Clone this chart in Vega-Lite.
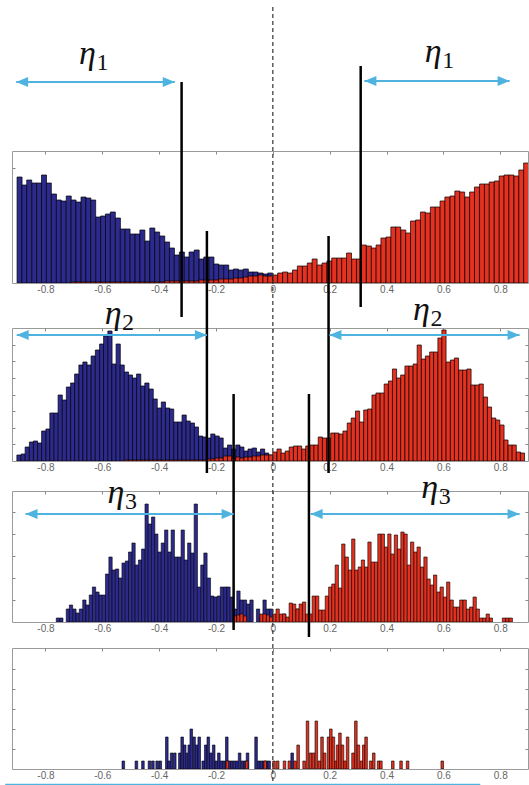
{
"$schema":"https://vega.github.io/schema/vega-lite/v6.json",
"padding":{"left":3,"top":5,"right":0,"bottom":0},
"spacing":45,
"bounds":"flush",
"config":{"view":{"stroke":"#9a9a9a","strokeWidth":1},"axis":{"tickColor":"#888","labelColor":"#666","labelFont":"Liberation Sans","labelFontSize":10}},
"vconcat":[
{
"width":516,"height":132,
"resolve":{"axis":{"x":"independent","y":"independent"}},
"layer":[
{"data":{"format":{"type":"csv"},"values":"x,s,n\n-0.891,b,106\n-0.874,b,98\n-0.857,b,103\n-0.839,b,100\n-0.822,b,100\n-0.805,b,108\n-0.788,b,100\n-0.770,b,89\n-0.753,b,83\n-0.736,b,82\n-0.718,b,87\n-0.701,b,83\n-0.684,b,81\n-0.666,b,86\n-0.649,b,85\n-0.632,b,83\n-0.614,b,66\n-0.597,b,67\n-0.580,b,69\n-0.563,b,71\n-0.545,b,65\n-0.528,b,54\n-0.511,b,54\n-0.493,b,49\n-0.476,b,49\n-0.459,b,53\n-0.441,b,42\n-0.424,b,55\n-0.407,b,51\n-0.389,b,47\n-0.372,b,41\n-0.355,b,35\n-0.338,b,28\n-0.320,b,31\n-0.303,b,26\n-0.286,b,31\n-0.268,b,33\n-0.251,b,24\n-0.234,b,26\n-0.216,b,26\n-0.199,b,19\n-0.182,b,18\n-0.164,b,18\n-0.147,b,13\n-0.130,b,14\n-0.113,b,13\n-0.095,b,14\n-0.078,b,11\n-0.061,b,11\n-0.043,b,10\n-0.026,b,9\n-0.009,b,10\n-0.701,r,1\n-0.684,r,1\n-0.666,r,1\n-0.649,r,1\n-0.632,r,1\n-0.614,r,1\n-0.597,r,1\n-0.580,r,1\n-0.563,r,1\n-0.545,r,1\n-0.528,r,1\n-0.511,r,1\n-0.493,r,1\n-0.476,r,1\n-0.459,r,1\n-0.441,r,1\n-0.424,r,1\n-0.407,r,1\n-0.389,r,1\n-0.372,r,2\n-0.355,r,2\n-0.338,r,2\n-0.320,r,2\n-0.303,r,2\n-0.286,r,2\n-0.268,r,2\n-0.251,r,3\n-0.234,r,3\n-0.216,r,3\n-0.199,r,3\n-0.182,r,4\n-0.164,r,4\n-0.147,r,4\n-0.130,r,5\n-0.113,r,5\n-0.095,r,6\n-0.078,r,7\n-0.061,r,7\n-0.043,r,8\n-0.026,r,7\n-0.009,r,7\n0.009,r,8\n0.026,r,10\n0.043,r,11\n0.061,r,10\n0.078,r,13\n0.095,r,17\n0.113,r,17\n0.130,r,20\n0.147,r,24\n0.164,r,18\n0.182,r,20\n0.199,r,22\n0.216,r,25\n0.234,r,25\n0.251,r,25\n0.268,r,30\n0.286,r,24\n0.303,r,24\n0.320,r,38\n0.338,r,37\n0.355,r,35\n0.372,r,38\n0.389,r,45\n0.407,r,46\n0.424,r,56\n0.441,r,56\n0.459,r,53\n0.476,r,50\n0.493,r,62\n0.511,r,63\n0.528,r,71\n0.545,r,70\n0.563,r,76\n0.580,r,76\n0.597,r,82\n0.614,r,86\n0.632,r,87\n0.649,r,92\n0.666,r,91\n0.684,r,86\n0.701,r,91\n0.718,r,96\n0.736,r,99\n0.753,r,99\n0.770,r,101\n0.788,r,102\n0.805,r,107\n0.822,r,108\n0.839,r,108\n0.857,r,107\n0.874,r,113\n0.891,r,120"},
 "mark":{"type":"bar","orient":"vertical","size":5,"stroke":"#000","strokeWidth":0.7,"clip":true},
 "encoding":{
  "x":{"field":"x","type":"quantitative","scale":{"domain":[-0.9,0.88],"nice":false,"zero":false},"axis":{"orient":"bottom","values":[-0.8,-0.6,-0.4,-0.2,0,0.2,0.4,0.6,0.8],"ticks":false,"domain":false,"grid":false,"title":null,"labelPadding":1,"labelExpr":"datum.value == 0 ? '0' : replace(format(datum.value, '.1f'), '\u2212', '-')"}},
  "y":{"field":"n","type":"quantitative","stack":null,"scale":{"domain":[0,132],"nice":false,"zero":false},"axis":{"orient":"left","values":[115],"labels":false,"tickSize":-3,"domain":false,"grid":false,"title":null}},
  "color":{"field":"s","type":"nominal","scale":{"domain":["b","r"],"range":["#2d2a8e","#e5311f"]},"legend":null}}},
{"data":{"values":[{"x":-0.321,"y":201,"y2":-34},{"x":0.309,"y":217,"y2":-24}]},
 "mark":{"type":"rule","color":"#000","strokeWidth":2.5},
 "encoding":{
  "x":{"field":"x","type":"quantitative","scale":{"domain":[-0.9,0.88],"nice":false,"zero":false},"axis":{"orient":"top","values":[-0.8,-0.6,-0.4,-0.2,0,0.2,0.4,0.6,0.8],"labels":false,"tickSize":-3,"domain":false,"grid":false,"title":null}},
  "y":{"field":"y","type":"quantitative","scale":{"domain":[0,132],"nice":false,"zero":false},"axis":{"orient":"right","values":[115],"labels":false,"tickSize":-3,"domain":false,"grid":false,"title":null}},
  "y2":{"field":"y2"}}},
{"data":{"values":[{"x":-0.903,"x2":-0.345,"y":201},{"x":0.322,"x2":0.833,"y":202}]},
 "layer":[
  {"mark":{"type":"rule","color":"#4fb3e0","strokeWidth":2},
   "encoding":{"x":{"field":"x","type":"quantitative","scale":{"domain":[-0.9,0.88],"nice":false,"zero":false},"axis":null},"x2":{"field":"x2"},"y":{"field":"y","type":"quantitative","scale":{"domain":[0,132],"nice":false,"zero":false},"axis":null}}},
  {"mark":{"type":"point","filled":true,"opacity":1,"size":100,"strokeWidth":0,"color":"#4fb3e0","shape":"M0,0L2.4,-1L2.4,1Z"},
   "encoding":{"x":{"field":"x","type":"quantitative","scale":{"domain":[-0.9,0.88],"nice":false,"zero":false},"axis":null},"y":{"field":"y","type":"quantitative","scale":{"domain":[0,132],"nice":false,"zero":false},"axis":null}}},
  {"mark":{"type":"point","filled":true,"opacity":1,"size":100,"strokeWidth":0,"color":"#4fb3e0","shape":"M0,0L-2.4,-1L-2.4,1Z"},
   "encoding":{"x":{"field":"x2","type":"quantitative","scale":{"domain":[-0.9,0.88],"nice":false,"zero":false},"axis":null},"y":{"field":"y","type":"quantitative","scale":{"domain":[0,132],"nice":false,"zero":false},"axis":null}}}
 ]},
{"data":{"values":[{"x":-0.652,"y":219,"d":"1"},{"x":0.564,"y":221,"d":"1"}]},
 "layer":[
  {"mark":{"type":"text","text":"η","font":"Liberation Serif","fontStyle":"italic","fontSize":34,"baseline":"alphabetic","align":"center","color":"#111"},
   "encoding":{"x":{"field":"x","type":"quantitative","scale":{"domain":[-0.9,0.88],"nice":false,"zero":false},"axis":null},"y":{"field":"y","type":"quantitative","scale":{"domain":[0,132],"nice":false,"zero":false},"axis":null}}},
  {"mark":{"type":"text","font":"Liberation Serif","fontSize":24,"baseline":"alphabetic","align":"center","dx":15,"dy":6,"color":"#111"},
   "encoding":{"x":{"field":"x","type":"quantitative","scale":{"domain":[-0.9,0.88],"nice":false,"zero":false},"axis":null},"y":{"field":"y","type":"quantitative","scale":{"domain":[0,132],"nice":false,"zero":false},"axis":null},"text":{"field":"d"}}}
 ]}
]
},
{
"spacing":30,"bounds":"flush",
"vconcat":[
{
"width":516,"height":133,
"resolve":{"axis":{"x":"independent","y":"independent"}},
"layer":[
{"data":{"format":{"type":"csv"},"values":"x,s,n\n-0.893,b,6\n-0.878,b,7\n-0.864,b,14\n-0.849,b,19\n-0.835,b,20\n-0.820,b,18\n-0.806,b,30\n-0.791,b,32\n-0.777,b,48\n-0.762,b,48\n-0.748,b,66\n-0.733,b,61\n-0.719,b,74\n-0.704,b,78\n-0.690,b,87\n-0.675,b,96\n-0.661,b,99\n-0.646,b,96\n-0.632,b,105\n-0.617,b,111\n-0.602,b,117\n-0.588,b,125\n-0.573,b,130\n-0.559,b,97\n-0.544,b,117\n-0.530,b,96\n-0.515,b,89\n-0.501,b,86\n-0.486,b,83\n-0.472,b,87\n-0.457,b,75\n-0.443,b,78\n-0.428,b,72\n-0.414,b,62\n-0.399,b,53\n-0.385,b,59\n-0.370,b,53\n-0.356,b,52\n-0.341,b,39\n-0.327,b,39\n-0.312,b,46\n-0.298,b,40\n-0.283,b,38\n-0.269,b,34\n-0.254,b,25\n-0.240,b,24\n-0.225,b,23\n-0.211,b,27\n-0.196,b,25\n-0.182,b,23\n-0.167,b,13\n-0.152,b,16\n-0.138,b,12\n-0.123,b,16\n-0.109,b,14\n-0.094,b,10\n-0.080,b,12\n-0.065,b,13\n-0.051,b,9\n-0.036,b,12\n-0.022,b,8\n-0.007,b,6\n-0.515,r,1\n-0.501,r,1\n-0.486,r,1\n-0.472,r,1\n-0.457,r,1\n-0.443,r,1\n-0.428,r,1\n-0.414,r,1\n-0.399,r,1\n-0.385,r,1\n-0.370,r,1\n-0.356,r,1\n-0.341,r,1\n-0.327,r,1\n-0.312,r,1\n-0.298,r,1\n-0.283,r,1\n-0.269,r,1\n-0.254,r,1\n-0.240,r,1\n-0.225,r,2\n-0.211,r,2\n-0.196,r,3\n-0.182,r,3\n-0.167,r,5\n-0.152,r,5\n-0.138,r,3\n-0.123,r,4\n-0.109,r,3\n-0.094,r,4\n-0.080,r,4\n-0.065,r,5\n-0.051,r,5\n-0.036,r,6\n-0.022,r,6\n-0.007,r,6\n0.007,r,9\n0.022,r,12\n0.036,r,8\n0.051,r,10\n0.065,r,14\n0.080,r,15\n0.094,r,15\n0.109,r,12\n0.123,r,15\n0.138,r,16\n0.152,r,16\n0.167,r,24\n0.182,r,23\n0.196,r,23\n0.211,r,28\n0.225,r,28\n0.240,r,27\n0.254,r,30\n0.269,r,38\n0.283,r,43\n0.298,r,50\n0.312,r,39\n0.327,r,51\n0.341,r,52\n0.356,r,66\n0.370,r,68\n0.385,r,68\n0.399,r,77\n0.414,r,80\n0.428,r,92\n0.443,r,83\n0.457,r,86\n0.472,r,95\n0.486,r,95\n0.501,r,97\n0.515,r,116\n0.530,r,102\n0.544,r,105\n0.559,r,109\n0.573,r,109\n0.588,r,123\n0.602,r,131\n0.617,r,99\n0.632,r,101\n0.646,r,103\n0.661,r,91\n0.675,r,91\n0.690,r,92\n0.704,r,76\n0.719,r,76\n0.733,r,77\n0.748,r,64\n0.762,r,54\n0.777,r,43\n0.791,r,41\n0.806,r,36\n0.820,r,21\n0.835,r,16\n0.849,r,16\n0.864,r,9\n0.878,r,8"},
 "mark":{"type":"bar","orient":"vertical","size":4.2,"stroke":"#000","strokeWidth":0.7,"clip":true},
 "encoding":{
  "x":{"field":"x","type":"quantitative","scale":{"domain":[-0.9,0.88],"nice":false,"zero":false},"axis":{"orient":"bottom","values":[-0.8,-0.6,-0.4,-0.2,0,0.2,0.4,0.6,0.8],"ticks":false,"domain":false,"grid":false,"title":null,"labelPadding":1,"labelExpr":"datum.value == 0 ? '0' : replace(format(datum.value, '.1f'), '\u2212', '-')"}},
  "y":{"field":"n","type":"quantitative","stack":null,"scale":{"domain":[0,133],"nice":false,"zero":false},"axis":{"orient":"left","values":[16.6,33.2,49.8,66.4,83,99.6,116.2],"labels":false,"tickSize":-3,"domain":false,"grid":false,"title":null}},
  "color":{"field":"s","type":"nominal","scale":{"domain":["b","r"],"range":["#2d2a8e","#e5311f"]},"legend":null}}},
{"data":{"values":[{"x":-0.232,"y":230,"y2":-12},{"x":0.196,"y":225,"y2":-12}]},
 "mark":{"type":"rule","color":"#000","strokeWidth":2.5},
 "encoding":{
  "x":{"field":"x","type":"quantitative","scale":{"domain":[-0.9,0.88],"nice":false,"zero":false},"axis":{"orient":"top","values":[-0.8,-0.6,-0.4,-0.2,0,0.2,0.4,0.6,0.8],"labels":false,"tickSize":-3,"domain":false,"grid":false,"title":null}},
  "y":{"field":"y","type":"quantitative","scale":{"domain":[0,133],"nice":false,"zero":false},"axis":{"orient":"right","values":[16.6,33.2,49.8,66.4,83,99.6,116.2],"labels":false,"tickSize":-3,"domain":false,"grid":false,"title":null}},
  "y2":{"field":"y2"}}},
{"data":{"values":[{"x":-0.901,"x2":-0.232,"y":126},{"x":0.199,"x2":0.868,"y":126}]},
 "layer":[
  {"mark":{"type":"rule","color":"#4fb3e0","strokeWidth":2},
   "encoding":{"x":{"field":"x","type":"quantitative","scale":{"domain":[-0.9,0.88],"nice":false,"zero":false},"axis":null},"x2":{"field":"x2"},"y":{"field":"y","type":"quantitative","scale":{"domain":[0,133],"nice":false,"zero":false},"axis":null}}},
  {"mark":{"type":"point","filled":true,"opacity":1,"size":100,"strokeWidth":0,"color":"#4fb3e0","shape":"M0,0L2.4,-1L2.4,1Z"},
   "encoding":{"x":{"field":"x","type":"quantitative","scale":{"domain":[-0.9,0.88],"nice":false,"zero":false},"axis":null},"y":{"field":"y","type":"quantitative","scale":{"domain":[0,133],"nice":false,"zero":false},"axis":null}}},
  {"mark":{"type":"point","filled":true,"opacity":1,"size":100,"strokeWidth":0,"color":"#4fb3e0","shape":"M0,0L-2.4,-1L-2.4,1Z"},
   "encoding":{"x":{"field":"x2","type":"quantitative","scale":{"domain":[-0.9,0.88],"nice":false,"zero":false},"axis":null},"y":{"field":"y","type":"quantitative","scale":{"domain":[0,133],"nice":false,"zero":false},"axis":null}}}
 ]},
{"data":{"values":[{"x":-0.562,"y":137,"d":"2"},{"x":0.523,"y":141,"d":"2"}]},
 "layer":[
  {"mark":{"type":"text","text":"η","font":"Liberation Serif","fontStyle":"italic","fontSize":34,"baseline":"alphabetic","align":"center","color":"#111"},
   "encoding":{"x":{"field":"x","type":"quantitative","scale":{"domain":[-0.9,0.88],"nice":false,"zero":false},"axis":null},"y":{"field":"y","type":"quantitative","scale":{"domain":[0,133],"nice":false,"zero":false},"axis":null}}},
  {"mark":{"type":"text","font":"Liberation Serif","fontSize":24,"baseline":"alphabetic","align":"center","dx":15,"dy":6,"color":"#111"},
   "encoding":{"x":{"field":"x","type":"quantitative","scale":{"domain":[-0.9,0.88],"nice":false,"zero":false},"axis":null},"y":{"field":"y","type":"quantitative","scale":{"domain":[0,133],"nice":false,"zero":false},"axis":null},"text":{"field":"d"}}}
 ]}
]
},
{
"spacing":26,"bounds":"flush",
"vconcat":[
{
"width":516,"height":131,
"resolve":{"axis":{"x":"independent","y":"independent"}},
"layer":[
{"data":{"format":{"type":"csv"},"values":"x,s,n\n-0.756,b,4\n-0.744,b,4\n-0.721,b,13\n-0.710,b,17\n-0.698,b,13\n-0.687,b,9\n-0.675,b,13\n-0.663,b,22\n-0.652,b,17\n-0.640,b,27\n-0.629,b,35\n-0.617,b,30\n-0.606,b,27\n-0.594,b,27\n-0.583,b,48\n-0.571,b,65\n-0.560,b,52\n-0.548,b,53\n-0.537,b,44\n-0.525,b,59\n-0.513,b,61\n-0.502,b,70\n-0.490,b,79\n-0.479,b,57\n-0.467,b,62\n-0.456,b,73\n-0.444,b,118\n-0.433,b,98\n-0.421,b,105\n-0.410,b,88\n-0.398,b,70\n-0.387,b,79\n-0.375,b,92\n-0.363,b,70\n-0.352,b,92\n-0.340,b,65\n-0.329,b,65\n-0.317,b,92\n-0.306,b,62\n-0.294,b,79\n-0.283,b,69\n-0.271,b,118\n-0.260,b,35\n-0.248,b,57\n-0.237,b,69\n-0.225,b,44\n-0.213,b,26\n-0.202,b,25\n-0.190,b,26\n-0.179,b,35\n-0.167,b,35\n-0.156,b,35\n-0.144,b,25\n-0.133,b,13\n-0.121,b,31\n-0.110,b,22\n-0.098,b,22\n-0.087,b,18\n-0.075,b,22\n-0.052,b,13\n-0.040,b,5\n-0.029,b,22\n-0.017,b,13\n-0.006,b,13\n0.040,b,8\n0.087,b,13\n-0.133,r,6\n-0.121,r,7\n-0.110,r,8\n-0.098,r,6\n-0.040,r,8\n-0.029,r,8\n-0.017,r,7\n-0.006,r,5\n0.006,r,8\n0.017,r,13\n0.029,r,8\n0.040,r,8\n0.052,r,5\n0.063,r,19\n0.075,r,18\n0.087,r,13\n0.098,r,18\n0.110,r,20\n0.121,r,8\n0.133,r,8\n0.144,r,26\n0.156,r,26\n0.167,r,12\n0.179,r,12\n0.190,r,26\n0.202,r,35\n0.213,r,38\n0.225,r,57\n0.237,r,34\n0.248,r,78\n0.260,r,65\n0.271,r,52\n0.283,r,83\n0.294,r,52\n0.306,r,55\n0.317,r,62\n0.329,r,55\n0.340,r,80\n0.352,r,60\n0.363,r,60\n0.375,r,88\n0.387,r,88\n0.398,r,75\n0.410,r,88\n0.421,r,68\n0.433,r,87\n0.444,r,73\n0.456,r,90\n0.467,r,88\n0.479,r,57\n0.490,r,80\n0.502,r,70\n0.513,r,75\n0.525,r,55\n0.537,r,65\n0.548,r,43\n0.560,r,37\n0.571,r,47\n0.583,r,30\n0.594,r,35\n0.606,r,25\n0.617,r,40\n0.629,r,22\n0.640,r,15\n0.652,r,15\n0.663,r,22\n0.675,r,22\n0.687,r,13\n0.698,r,15\n0.710,r,25\n0.721,r,13\n0.733,r,4\n0.744,r,4\n0.756,r,8\n0.767,r,4\n0.813,r,4\n0.825,r,4\n0.837,r,4"},
 "mark":{"type":"bar","orient":"vertical","size":3.3,"stroke":"#000","strokeWidth":0.6,"clip":true},
 "encoding":{
  "x":{"field":"x","type":"quantitative","scale":{"domain":[-0.9,0.88],"nice":false,"zero":false},"axis":{"orient":"bottom","values":[-0.8,-0.6,-0.4,-0.2,0,0.2,0.4,0.6,0.8],"ticks":false,"domain":false,"grid":false,"title":null,"labelPadding":1,"labelExpr":"datum.value == 0 ? '0' : replace(format(datum.value, '.1f'), '\u2212', '-')"}},
  "y":{"field":"n","type":"quantitative","stack":null,"scale":{"domain":[0,131],"nice":false,"zero":false},"axis":{"orient":"left","values":[22,44,66,88,110],"labels":false,"tickSize":-3,"domain":false,"grid":false,"title":null}},
  "color":{"field":"s","type":"nominal","scale":{"domain":["b","r"],"range":["#2d2a8e","#e5311f"]},"legend":null}}},
{"data":{"values":[{"x":-0.138,"y":228,"y2":-8},{"x":0.127,"y":228,"y2":-15}]},
 "mark":{"type":"rule","color":"#000","strokeWidth":2.5},
 "encoding":{
  "x":{"field":"x","type":"quantitative","scale":{"domain":[-0.9,0.88],"nice":false,"zero":false},"axis":{"orient":"top","values":[-0.8,-0.6,-0.4,-0.2,0,0.2,0.4,0.6,0.8],"labels":false,"tickSize":-3,"domain":false,"grid":false,"title":null}},
  "y":{"field":"y","type":"quantitative","scale":{"domain":[0,131],"nice":false,"zero":false},"axis":{"orient":"right","values":[22,44,66,88,110],"labels":false,"tickSize":-3,"domain":false,"grid":false,"title":null}},
  "y2":{"field":"y2"}}},
{"data":{"values":[{"x":-0.870,"x2":-0.138,"y":108},{"x":0.133,"x2":0.868,"y":108}]},
 "layer":[
  {"mark":{"type":"rule","color":"#4fb3e0","strokeWidth":2},
   "encoding":{"x":{"field":"x","type":"quantitative","scale":{"domain":[-0.9,0.88],"nice":false,"zero":false},"axis":null},"x2":{"field":"x2"},"y":{"field":"y","type":"quantitative","scale":{"domain":[0,131],"nice":false,"zero":false},"axis":null}}},
  {"mark":{"type":"point","filled":true,"opacity":1,"size":100,"strokeWidth":0,"color":"#4fb3e0","shape":"M0,0L2.4,-1L2.4,1Z"},
   "encoding":{"x":{"field":"x","type":"quantitative","scale":{"domain":[-0.9,0.88],"nice":false,"zero":false},"axis":null},"y":{"field":"y","type":"quantitative","scale":{"domain":[0,131],"nice":false,"zero":false},"axis":null}}},
  {"mark":{"type":"point","filled":true,"opacity":1,"size":100,"strokeWidth":0,"color":"#4fb3e0","shape":"M0,0L-2.4,-1L-2.4,1Z"},
   "encoding":{"x":{"field":"x2","type":"quantitative","scale":{"domain":[-0.9,0.88],"nice":false,"zero":false},"axis":null},"y":{"field":"y","type":"quantitative","scale":{"domain":[0,131],"nice":false,"zero":false},"axis":null}}}
 ]},
{"data":{"values":[{"x":-0.552,"y":119,"d":"3"},{"x":0.552,"y":124,"d":"3"}]},
 "layer":[
  {"mark":{"type":"text","text":"η","font":"Liberation Serif","fontStyle":"italic","fontSize":34,"baseline":"alphabetic","align":"center","color":"#111"},
   "encoding":{"x":{"field":"x","type":"quantitative","scale":{"domain":[-0.9,0.88],"nice":false,"zero":false},"axis":null},"y":{"field":"y","type":"quantitative","scale":{"domain":[0,131],"nice":false,"zero":false},"axis":null}}},
  {"mark":{"type":"text","font":"Liberation Serif","fontSize":24,"baseline":"alphabetic","align":"center","dx":15,"dy":6,"color":"#111"},
   "encoding":{"x":{"field":"x","type":"quantitative","scale":{"domain":[-0.9,0.88],"nice":false,"zero":false},"axis":null},"y":{"field":"y","type":"quantitative","scale":{"domain":[0,131],"nice":false,"zero":false},"axis":null},"text":{"field":"d"}}}
 ]}
]
},
{
"width":516,"height":121,
"resolve":{"axis":{"x":"independent","y":"independent"}},
"layer":[
{"data":{"format":{"type":"csv"},"values":"x,s,n\n-0.526,b,8\n-0.480,b,8\n-0.457,b,8\n-0.434,b,8\n-0.422,b,8\n-0.407,b,8\n-0.396,b,8\n-0.373,b,32\n-0.365,b,8\n-0.356,b,16\n-0.345,b,16\n-0.327,b,16\n-0.319,b,32\n-0.310,b,24\n-0.300,b,16\n-0.294,b,24\n-0.287,b,40\n-0.277,b,32\n-0.268,b,24\n-0.259,b,32\n-0.245,b,8\n-0.236,b,24\n-0.227,b,32\n-0.218,b,16\n-0.208,b,24\n-0.199,b,8\n-0.190,b,16\n-0.181,b,8\n-0.172,b,8\n-0.162,b,32\n-0.153,b,8\n-0.144,b,8\n-0.135,b,8\n-0.126,b,8\n-0.117,b,16\n-0.107,b,8\n-0.098,b,8\n-0.089,b,16\n-0.059,b,32\n-0.049,b,8\n-0.040,b,8\n-0.031,b,8\n-0.022,b,8\n-0.013,b,8\n0.068,b,16\n-0.160,r,8\n-0.092,r,8\n-0.027,r,8\n0.004,r,8\n0.017,r,8\n0.041,r,8\n0.058,r,8\n0.078,r,8\n0.089,r,24\n0.110,r,8\n0.122,r,48\n0.133,r,16\n0.143,r,16\n0.153,r,48\n0.164,r,8\n0.173,r,32\n0.182,r,16\n0.196,r,32\n0.204,r,40\n0.213,r,32\n0.222,r,8\n0.228,r,24\n0.236,r,36\n0.245,r,24\n0.254,r,8\n0.263,r,32\n0.282,r,16\n0.292,r,48\n0.301,r,24\n0.312,r,8\n0.320,r,24\n0.328,r,32\n0.344,r,8\n0.355,r,16\n0.372,r,8\n0.380,r,8\n0.422,r,8\n0.451,r,8\n0.474,r,8\n0.596,r,8"},
 "mark":{"type":"bar","orient":"vertical","size":2.6,"stroke":"#000","strokeWidth":0.6,"clip":true},
 "encoding":{
  "x":{"field":"x","type":"quantitative","scale":{"domain":[-0.9,0.88],"nice":false,"zero":false},"axis":{"orient":"bottom","values":[-0.8,-0.6,-0.4,-0.2,0,0.2,0.4,0.6,0.8],"ticks":false,"domain":false,"grid":false,"title":null,"labelPadding":1,"labelExpr":"datum.value == 0 ? '0' : replace(format(datum.value, '.1f'), '\u2212', '-')"}},
  "y":{"field":"n","type":"quantitative","stack":null,"scale":{"domain":[0,121],"nice":false,"zero":false},"axis":{"orient":"left","values":[20,40,60,80,100],"labels":false,"tickSize":-3,"domain":false,"grid":false,"title":null}},
  "color":{"field":"s","type":"nominal","scale":{"domain":["b","r"],"range":["#2d2a8e","#e5311f"]},"legend":null}}},
{"data":{"values":[{"x":0,"y":762,"y2":-17}]},
 "mark":{"type":"rule","color":"#333","strokeWidth":1.2,"strokeDash":[4,3]},
 "encoding":{
  "x":{"field":"x","type":"quantitative","scale":{"domain":[-0.9,0.88],"nice":false,"zero":false},"axis":{"orient":"top","values":[-0.8,-0.6,-0.4,-0.2,0,0.2,0.4,0.6,0.8],"labels":false,"tickSize":-3,"domain":false,"grid":false,"title":null}},
  "y":{"field":"y","type":"quantitative","scale":{"domain":[0,121],"nice":false,"zero":false},"axis":{"orient":"right","values":[20,40,60,80,100],"labels":false,"tickSize":-3,"domain":false,"grid":false,"title":null}},
  "y2":{"field":"y2"}}},
{"data":{"values":[{"x":-0.9414,"x2":0.7298,"y":-16}]},
 "mark":{"type":"rule","color":"#4fb3e0","strokeWidth":2.5},
 "encoding":{"x":{"field":"x","type":"quantitative","scale":{"domain":[-0.9,0.88],"nice":false,"zero":false},"axis":null},"x2":{"field":"x2"},"y":{"field":"y","type":"quantitative","scale":{"domain":[0,121],"nice":false,"zero":false},"axis":null}}}
]
}
]
}
]
}
]
}
